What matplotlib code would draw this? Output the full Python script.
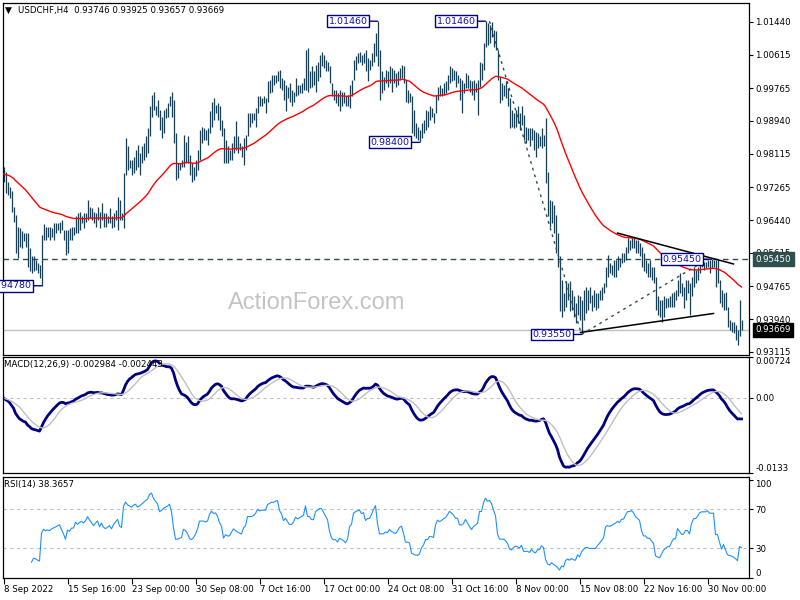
import numpy as np
import pandas as pd
import matplotlib
matplotlib.use("Agg")
import matplotlib.pyplot as plt

plt.rcParams['font.family'] = ['DejaVu Sans']

# USDCHF H4 bars, 8 Sep 2022 08:00 .. 2 Dec 2022 20:00, prices in 1/10000
highs = [
    9779, 9766, 9741, 9728, 9716, 9678, 9657, 9627, 9623, 9615,
    9611, 9611, 9611, 9573, 9552, 9552, 9543, 9535, 9531, 9606,
    9634, 9627, 9627, 9627, 9623, 9636, 9636, 9636, 9640, 9644,
    9619, 9619, 9619, 9623, 9627, 9627, 9653, 9661, 9665, 9653,
    9661, 9661, 9695, 9678, 9674, 9665, 9661, 9678, 9665, 9686,
    9661, 9661, 9653, 9674, 9653, 9661, 9670, 9703, 9695, 9661,
    9762, 9851, 9830, 9796, 9796, 9804, 9821, 9834, 9813, 9830,
    9838, 9855, 9876, 9931, 9960, 9968, 9931, 9947, 9922, 9905,
    9922, 9926, 9939, 9956, 9968, 9947, 9863, 9787, 9787, 9796,
    9859, 9842, 9855, 9809, 9787, 9779, 9796, 9821, 9872, 9880,
    9876, 9872, 9876, 9918, 9943, 9952, 9935, 9939, 9931, 9897,
    9876, 9846, 9830, 9821, 9838, 9855, 9893, 9855, 9838, 9830,
    9851, 9859, 9914, 9914, 9914, 9914, 9926, 9956, 9956, 9952,
    9956, 9952, 9994, 9998, 10011, 10011, 10011, 10019, 10023, 10002,
    9998, 9985, 9981, 9990, 9973, 9968, 10002, 9985, 9985, 9990,
    10002, 10074, 10078, 10019, 10032, 10019, 10036, 10044, 10061, 10069,
    10061, 10048, 10044, 10032, 9990, 9973, 9973, 9964, 9973, 9968,
    9968, 9956, 9960, 9985, 9998, 10048, 10057, 10065, 10069, 10061,
    10065, 10074, 10053, 10048, 10065, 10091, 10116, 10146, 10074, 10019,
    10006, 10023, 10019, 10032, 10027, 10023, 10015, 10019, 10027, 10036,
    10032, 9998, 9973, 9964, 9956, 9922, 9888, 9880, 9872, 9888,
    9897, 9922, 9918, 9931, 9926, 9914, 9960, 9981, 9985, 9977,
    9990, 9994, 10011, 10032, 10027, 10023, 10019, 10011, 10002, 9998,
    9990, 10015, 10011, 9998, 9994, 9998, 9990, 9998, 10044, 10040,
    10091, 10146, 10141, 10137, 10145, 10124, 10120, 10074, 10006, 9990,
    9985, 9994, 9977, 9952, 9922, 9914, 9922, 9931, 9914, 9931,
    9910, 9880, 9876, 9876, 9876, 9872, 9867, 9863, 9855, 9876,
    9859, 9901, 9766, 9695, 9691, 9682, 9657, 9611, 9552, 9493,
    9459, 9489, 9484, 9489, 9467, 9451, 9434, 9455, 9451, 9442,
    9467, 9476, 9467, 9476, 9455, 9467, 9459, 9459, 9467, 9476,
    9484, 9526, 9556, 9535, 9531, 9543, 9543, 9552, 9547, 9560,
    9560, 9577, 9598, 9594, 9598, 9598, 9594, 9594, 9585, 9577,
    9560, 9543, 9535, 9543, 9526, 9526, 9501, 9451, 9442, 9442,
    9451, 9446, 9446, 9451, 9459, 9463, 9467, 9493, 9510, 9484,
    9476, 9493, 9493, 9484, 9501, 9526, 9518, 9526, 9535, 9539,
    9539, 9539, 9542, 9542, 9545, 9543, 9543, 9543, 9493, 9467,
    9459, 9463, 9425, 9392, 9387, 9387, 9379, 9366, 9442, 9392.5,
]
lows = [
    9741, 9712, 9707, 9699, 9665, 9640, 9560, 9547, 9577, 9573,
    9590, 9577, 9526, 9514, 9510, 9514, 9518, 9510, 9497, 9478,
    9594, 9594, 9602, 9594, 9602, 9594, 9611, 9619, 9611, 9619,
    9594, 9556, 9560, 9594, 9594, 9606, 9611, 9611, 9619, 9636,
    9623, 9640, 9644, 9649, 9644, 9636, 9627, 9644, 9623, 9644,
    9627, 9627, 9636, 9636, 9623, 9627, 9644, 9619, 9644, 9644,
    9623, 9758, 9771, 9775, 9758, 9762, 9771, 9779, 9758, 9787,
    9796, 9804, 9813, 9855, 9905, 9922, 9910, 9905, 9872, 9851,
    9863, 9901, 9905, 9931, 9905, 9838, 9745, 9750, 9771, 9779,
    9779, 9787, 9787, 9758, 9741, 9745, 9754, 9771, 9796, 9838,
    9846, 9846, 9834, 9863, 9880, 9897, 9914, 9897, 9872, 9855,
    9787, 9787, 9787, 9796, 9796, 9813, 9821, 9813, 9821, 9804,
    9783, 9821, 9855, 9880, 9888, 9897, 9880, 9914, 9931, 9931,
    9939, 9914, 9943, 9964, 9968, 9985, 9990, 9994, 9977, 9973,
    9947, 9918, 9952, 9943, 9931, 9943, 9956, 9960, 9964, 9964,
    9973, 9973, 9968, 9977, 9981, 9985, 9968, 9994, 10006, 10032,
    10027, 10019, 10019, 9990, 9956, 9947, 9939, 9931, 9918, 9931,
    9939, 9931, 9931, 9926, 9956, 9998, 10023, 10040, 10044, 10036,
    10040, 10019, 9994, 10023, 10032, 10044, 10057, 10032, 9947, 9964,
    9973, 9990, 9981, 9990, 9968, 9990, 9981, 9985, 9998, 10002,
    9990, 9943, 9939, 9943, 9863, 9855, 9851, 9846, 9840, 9851,
    9863, 9872, 9880, 9897, 9905, 9888, 9914, 9947, 9956, 9956,
    9960, 9964, 9973, 9990, 9994, 9998, 9981, 9990, 9947, 9914,
    9964, 9977, 9977, 9968, 9960, 9947, 9968, 9910, 9981, 9998,
    10023, 10082, 10086, 10091, 10107, 10082, 10074, 9998, 9939, 9947,
    9956, 9952, 9931, 9876, 9880, 9876, 9880, 9888, 9872, 9884,
    9846, 9838, 9846, 9830, 9846, 9821, 9804, 9825, 9830, 9825,
    9830, 9737, 9653, 9627, 9636, 9611, 9560, 9526, 9413, 9400,
    9413, 9425, 9442, 9413, 9417, 9400, 9383, 9404, 9392, 9355,
    9392, 9408, 9417, 9434, 9413, 9425, 9417, 9421, 9442, 9442,
    9459, 9476, 9501, 9510, 9505, 9501, 9501, 9518, 9526, 9535,
    9539, 9543, 9560, 9569, 9573, 9573, 9560, 9560, 9552, 9526,
    9514, 9510, 9501, 9501, 9493, 9484, 9417, 9404, 9400, 9387,
    9400, 9421, 9425, 9425, 9425, 9425, 9442, 9451, 9459, 9451,
    9421, 9442, 9459, 9404, 9451, 9476, 9484, 9493, 9510, 9526,
    9518, 9522, 9526, 9510, 9522, 9526, 9476, 9484, 9434, 9425,
    9417, 9417, 9375, 9366, 9362, 9358, 9341, 9328, 9350, 9365.7,
]
closes = [
    9760, 9720, 9730, 9705, 9670, 9660, 9590, 9610, 9600, 9610,
    9598, 9600, 9540, 9550, 9525, 9535, 9530, 9515, 9505, 9598,
    9619, 9611, 9615, 9611, 9619, 9623, 9627, 9632, 9636, 9619,
    9602, 9577, 9611, 9606, 9619, 9619, 9644, 9636, 9644, 9649,
    9644, 9653, 9670, 9661, 9653, 9644, 9653, 9661, 9644, 9657,
    9644, 9640, 9644, 9649, 9640, 9653, 9661, 9670, 9653, 9649,
    9754, 9796, 9787, 9783, 9779, 9796, 9804, 9796, 9804, 9817,
    9830, 9846, 9863, 9922, 9947, 9931, 9922, 9914, 9888, 9897,
    9914, 9922, 9931, 9947, 9922, 9855, 9779, 9779, 9783, 9787,
    9830, 9821, 9804, 9771, 9762, 9771, 9787, 9813, 9863, 9863,
    9863, 9859, 9863, 9905, 9931, 9922, 9926, 9914, 9888, 9872,
    9804, 9821, 9813, 9813, 9830, 9846, 9838, 9830, 9825, 9821,
    9846, 9855, 9905, 9905, 9905, 9910, 9922, 9947, 9943, 9947,
    9947, 9947, 9981, 9990, 9998, 9998, 10006, 10011, 9990, 9981,
    9964, 9973, 9964, 9956, 9956, 9964, 9981, 9977, 9981, 9985,
    9990, 10032, 10006, 10006, 9998, 9998, 10032, 10040, 10048, 10048,
    10040, 10032, 10023, 9990, 9964, 9956, 9956, 9947, 9956, 9952,
    9947, 9939, 9947, 9981, 9990, 10040, 10048, 10053, 10057, 10048,
    10053, 10032, 10040, 10040, 10057, 10082, 10107, 10048, 9998, 9998,
    9998, 10006, 10002, 10015, 10006, 10002, 9998, 10006, 10019, 10023,
    9998, 9956, 9956, 9952, 9880, 9872, 9863, 9859, 9863, 9880,
    9888, 9905, 9905, 9914, 9914, 9910, 9952, 9973, 9968, 9973,
    9981, 9985, 9998, 10015, 10011, 10006, 9998, 9998, 9981, 9981,
    9985, 9998, 9990, 9981, 9973, 9981, 9985, 9990, 10032, 10032,
    10082, 10124, 10116, 10124, 10116, 10099, 10082, 10006, 9973, 9973,
    9973, 9964, 9947, 9905, 9897, 9905, 9910, 9905, 9897, 9905,
    9863, 9863, 9863, 9855, 9863, 9846, 9838, 9846, 9846, 9855,
    9846, 9754, 9678, 9653, 9661, 9627, 9594, 9543, 9442, 9460,
    9430, 9459, 9467, 9442, 9450, 9425, 9417, 9440, 9408, 9430,
    9442, 9451, 9451, 9442, 9442, 9442, 9442, 9451, 9459, 9467,
    9476, 9518, 9526, 9522, 9526, 9531, 9535, 9543, 9539, 9552,
    9552, 9569, 9585, 9585, 9590, 9585, 9577, 9573, 9569, 9543,
    9526, 9526, 9518, 9518, 9510, 9501, 9434, 9425, 9417, 9425,
    9434, 9438, 9442, 9442, 9451, 9459, 9459, 9484, 9476, 9467,
    9467, 9476, 9476, 9467, 9493, 9510, 9510, 9518, 9531, 9535,
    9535, 9535, 9539, 9535, 9535, 9535, 9493, 9493, 9470, 9440,
    9450, 9425, 9390, 9385, 9380, 9372, 9360, 9340, 9375, 9366.9,
]

# axis time labels, placed on the bar they name
date_pos = [0, 32, 64, 96, 128, 160, 192, 224, 256, 288, 320, 352]
date_labels = ['8 Sep 2022', '15 Sep 16:00', '23 Sep 00:00', '30 Sep 08:00',
               '7 Oct 16:00', '17 Oct 00:00', '24 Oct 08:00', '31 Oct 16:00',
               '8 Nov 00:00', '15 Nov 08:00', '22 Nov 16:00', '30 Nov 00:00']

price_ticks = [1.01440, 1.00615, 0.99765, 0.98940, 0.98115, 0.97265,
               0.96440, 0.95615, 0.94765, 0.93940, 0.93115]

# swing highs / lows marked on the chart
swing_pos = [19, 187, 208, 241, 289, 354]
swing_price = [0.94780, 1.01460, 0.98400, 1.01460, 0.93550, 0.95450]

# drawn lines: (bar, price) end points
tri_upper = ([307, 365], [0.9611, 0.9533])
tri_lower = ([288.5, 355], [0.9360, 0.9408])
leg_down = ([243, 289], [1.0146, 0.9355])
leg_up = ([289, 352], [0.9355, 0.9545])

level = 0.95450
header = 'USDCHF,H4  0.93746 0.93925 0.93657 0.93669'
macd_title = 'MACD(12,26,9) -0.002984 -0.002443'
rsi_title = 'RSI(14) 38.3657'

# ---- indicators
x = np.arange(len(closes))
hi = np.array(highs) / 10000
lo = np.array(lows) / 10000
close = pd.Series(closes, dtype=float) / 10000
last = close.iloc[-1]

ema55 = close.ewm(span=55, adjust=False).mean()
macd = close.ewm(span=12, adjust=False).mean() - close.ewm(span=26, adjust=False).mean()
signal = macd.rolling(9, min_periods=1).mean()
delta = close.diff()
gain = delta.clip(lower=0).ewm(alpha=1 / 14, adjust=True, min_periods=14).mean()
loss = (-delta.clip(upper=0)).ewm(alpha=1 / 14, adjust=True, min_periods=14).mean()
rsi = 100 - 100 / (1 + gain / loss)

# ---- figure
W, H = 800, 600
BAR = '#173f55'
NAVY = '#000080'
fig = plt.figure(figsize=(8, 6), dpi=100)


def rect(top, bottom):
    return [3.0 / W, 1 - bottom / H, 745.5 / W, (bottom - top) / H]


ax = fig.add_axes(rect(2.5, 354.5))
ax_m = fig.add_axes(rect(357, 473))
ax_r = fig.add_axes(rect(476.5, 578))

for a in (ax, ax_m, ax_r):
    a.set_xlim(-0.25, 372.5)
    a.yaxis.tick_right()
    a.tick_params(axis='y', direction='out', length=3, width=0.8, pad=2,
                  labelsize=6.2, colors='black')
    for s in a.spines.values():
        s.set_linewidth(0.9)
for a in (ax, ax_m):
    a.tick_params(axis='x', bottom=False, labelbottom=False)

# main price panel
ax.set_ylim(0.93044, 1.01932)
ax.axhline(last, color='#c0c0c0', lw=1, zorder=0)
ax.axhline(level, color='#2f4f4f', lw=1, ls=(0, (4, 3)), zorder=1)
ax.vlines(x, lo, hi, color=BAR, lw=0.9, zorder=2)
ax.plot(x, ema55, color='#ff0000', lw=1, zorder=3)
ax.plot(*tri_upper, color='black', lw=1.1, zorder=3)
ax.plot(*tri_lower, color='black', lw=1.1, zorder=3)
ax.plot(*leg_down, color='#2f4f4f', lw=1, ls=(0, (2, 3)), zorder=3)
ax.plot(*leg_up, color='#2f4f4f', lw=1, ls=(0, (2, 3)), zorder=3)

for i, p in zip(swing_pos, swing_price):
    t = ax.annotate(f'{p:.5f}', xy=(i, p), xytext=(-10, 0),
                    textcoords='offset pixels', ha='right', va='center',
                    fontsize=6.8, color='#1010b0', zorder=5,
                    bbox=dict(boxstyle='square,pad=0.15', fc='white',
                              ec=NAVY, lw=1),
                    arrowprops=dict(arrowstyle='-', color=NAVY, lw=1,
                                    shrinkA=0, shrinkB=0))
    t.set_clip_on(True)

ax.set_yticks(price_ticks)
ax.set_yticklabels([f'{v:.5f}' for v in price_ticks])
for v, fc in ((level, '#2f4f4f'), (last, 'black')):
    ax.annotate(f'{v:.5f}', xy=(1, v), xycoords=('axes fraction', 'data'),
                xytext=(7, 0), textcoords='offset pixels', ha='left',
                va='center', fontsize=6.2, color='white', zorder=6,
                annotation_clip=False,
                bbox=dict(boxstyle='square,pad=0.3', fc=fc, ec=fc))

ax.text(317 / W, 1 - 303 / H, 'ActionForex.com', transform=fig.transFigure,
        fontsize=17, color='#c4c4c4', ha='center', va='center',
        family='Liberation Sans', zorder=0)
fig.text(5 / W, 1 - 10 / H, '\u25bc', fontsize=6.5, va='center', ha='left')
fig.text(18 / W, 1 - 10 / H, header, fontsize=6.2, va='center', ha='left')

# MACD panel
ax_m.set_ylim(-0.0133, 0.00724)
ax_m.axhline(0, color='#c0c0c0', lw=0.8, ls=(0, (3, 3)))
ax_m.plot(x, macd, color=NAVY, lw=2)
ax_m.plot(x, signal, color='#c0c0c0', lw=1)
ax_m.set_yticks([0.00724, 0.0, -0.0133])
ax_m.set_yticklabels(['0.00724', '0.00', '-0.0133'])
labs = ax_m.get_yticklabels()
labs[0].set_va('top')
labs[2].set_va('bottom')
fig.text(4 / W, 1 - 365 / H, macd_title, fontsize=6.2, va='center', ha='left')

# RSI panel
ax_r.set_ylim(-0.2, 103.1)
for lv in (70, 30):
    ax_r.axhline(lv, color='#c0c0c0', lw=0.8, ls=(0, (3, 3)))
ax_r.plot(x, rsi, color='#1e90ff', lw=0.8)
ax_r.set_yticks([100, 70, 30, 0])
ax_r.set_yticklabels(['100', '70', '30', '0'])
labs = ax_r.get_yticklabels()
labs[0].set_va('top')
labs[3].set_va('bottom')
fig.text(4 / W, 1 - 485 / H, rsi_title, fontsize=6.2, va='center', ha='left')

ax_r.set_xticks(date_pos)
ax_r.set_xticklabels(date_labels)
ax_r.tick_params(axis='x', direction='out', length=4, width=0.8, pad=1,
                 labelsize=6.2)
for lab in ax_r.get_xticklabels():
    lab.set_ha('left')

fig.savefig('out.png', dpi=100)
